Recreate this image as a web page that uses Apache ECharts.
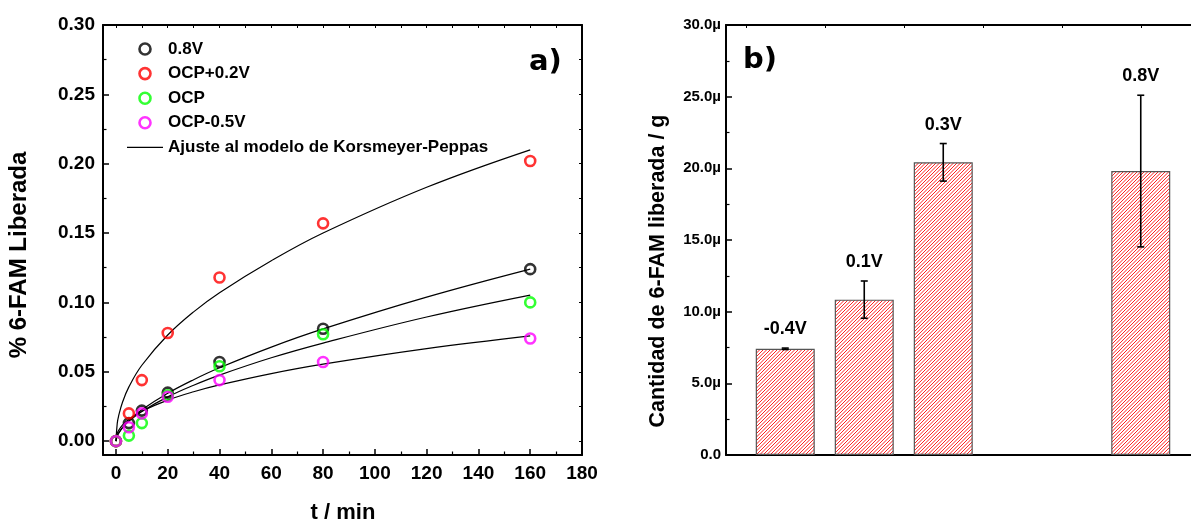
<!DOCTYPE html>
<html>
<head>
<meta charset="utf-8">
<script src="https://cdn.jsdelivr.net/npm/echarts@6/dist/echarts.min.js"></script>
<style>
html,body{margin:0;padding:0;background:#fff;}
#c{width:1191px;height:525px;}
</style>
</head>
<body>
<div id="c"></div>
<script>
// ---------- data (panel a) ----------
const times = [0, 5, 10, 20, 40, 80, 160];
const s08V   = [0, 0.013, 0.022, 0.035, 0.057, 0.081, 0.124];
const sOCPp2 = [0, 0.020, 0.044, 0.078, 0.118, 0.157, 0.202];
const sOCP   = [0, 0.004, 0.013, 0.033, 0.054, 0.077, 0.100];
const sOCPm5 = [0, 0.010, 0.020, 0.032, 0.044, 0.057, 0.074];
const seriesNames = ['0.8V', 'OCP+0.2V', 'OCP', 'OCP-0.5V'];
const fitName = 'Ajuste al modelo de Korsmeyer-Peppas';
// fitted curves
const fitTimes = [0, 0.5, 1, 2.5, 5, 10, 20, 30, 40, 60, 80, 120, 160];
const fit08V   = [0, 0.0036, 0.0055, 0.0096, 0.0148, 0.0226, 0.0345, 0.0443, 0.0529, 0.0678, 0.0809, 0.1038, 0.124];
const fitOCPp2 = [0, 0.0128, 0.0179, 0.0279, 0.0391, 0.0547, 0.0765, 0.0932, 0.107, 0.130, 0.150, 0.183, 0.210];
const fitOCP   = [0, 0.0038, 0.0057, 0.0097, 0.0144, 0.0214, 0.0319, 0.0403, 0.0476, 0.0601, 0.0707, 0.0895, 0.1053];
const fitOCPm5 = [0, 0.0055, 0.0076, 0.0115, 0.0158, 0.0216, 0.0296, 0.0356, 0.0405, 0.0487, 0.0555, 0.0667, 0.0759];
const xTicksA = [0, 20, 40, 60, 80, 100, 120, 140, 160, 180];
const yTicksA = [0, 0.05, 0.10, 0.15, 0.20, 0.25, 0.30];

// ---------- data (panel b) ----------
const barLabels = ['-0.4V', '0.1V', '0.3V', '0.8V'];
const barPos    = [1, 2, 3, 5.5];
const barValues = [7.41, 10.84, 20.42, 19.81];
const barErrors = [0.05, 1.30, 1.31, 5.29];

// ---------- helpers ----------
const FONT = '"Liberation Sans", Arial, sans-serif';
const pair = (xs, ys) => xs.map((x, i) => [x, ys[i]]);
const range = (a, b, s) => { const r = []; for (let v = a; v <= b + 1e-9; v += s) r.push(+v.toFixed(6)); return r; };

// hatch pattern
const pat = document.createElement('canvas');
pat.width = 7; pat.height = 7;
(function () {
  const g = pat.getContext('2d');
  g.fillStyle = '#fff'; g.fillRect(0, 0, 7, 7);
  g.strokeStyle = '#ff2020'; g.lineWidth = 1;
  for (let c = -3.5; c <= 17.5; c += 3.5) {
    g.beginPath(); g.moveTo(c + 1, -1); g.lineTo(c - 8, 8); g.stroke();
  }
})();

const chart = echarts.init(document.getElementById('c'), null, { renderer: 'canvas' });

const axLine = { show: true, onZero: false, lineStyle: { color: '#000', width: 2 } };
const noLine = { show: false, onZero: false };
const labA = { fontFamily: FONT, fontWeight: 'bold', fontSize: 19, color: '#000' };

const scatterColors = ['#000000', '#ff0000', '#00ff00', '#ff00ff'];
const scatterData = [s08V, sOCPp2, sOCP, sOCPm5];
const fitData = [fit08V, fitOCPp2, fitOCP, fitOCPm5];

const series = [];
fitData.forEach((d) => {
  series.push({
    name: fitName, type: 'line', xAxisIndex: 0, yAxisIndex: 0,
    data: pair(fitTimes, d), smooth: 0.4, symbol: 'none', showSymbol: false,
    lineStyle: { color: '#000', width: 1.2 }, itemStyle: { color: '#000' },
    z: 2, silent: true, animation: false
  });
});
scatterData.forEach((d, i) => {
  series.push({
    name: seriesNames[i], type: 'scatter', xAxisIndex: 0, yAxisIndex: 0,
    data: pair(times, d), symbol: 'circle', symbolSize: 10,
    itemStyle: { color: 'rgba(255,255,255,0)', borderColor: scatterColors[i], borderWidth: 2.6 },
    z: 3, animation: false
  });
});
// bars
series.push({
  type: 'bar', xAxisIndex: 3, yAxisIndex: 3,
  data: pair(barPos, barValues), barWidth: 59,
  itemStyle: { color: { image: pat, repeat: 'repeat' }, borderColor: '#555', borderWidth: 1.2 },
  animation: false, silent: true
});
// error bars + labels
series.push({
  type: 'custom', xAxisIndex: 3, yAxisIndex: 3,
  data: barPos.map((x, i) => [x, barValues[i] - barErrors[i], barValues[i] + barErrors[i]]),
  renderItem: function (params, api) {
    const x = api.value(0);
    const lo = api.coord([x, api.value(1)]);
    const hi = api.coord([x, api.value(2)]);
    const cw = 3.5;
    const st = { stroke: '#000', lineWidth: 1.6 };
    return {
      type: 'group',
      children: [
        { type: 'line', shape: { x1: hi[0], y1: hi[1], x2: lo[0], y2: lo[1] }, style: st },
        { type: 'line', shape: { x1: hi[0] - cw, y1: hi[1], x2: hi[0] + cw, y2: hi[1] }, style: st },
        { type: 'line', shape: { x1: lo[0] - cw, y1: lo[1], x2: lo[0] + cw, y2: lo[1] }, style: st },
        { type: 'text', x: hi[0], y: hi[1] - 10, style: {
            text: barLabels[params.dataIndex], fill: '#000', align: 'center', verticalAlign: 'bottom',
            font: 'bold 18px ' + FONT } }
      ]
    };
  },
  z: 5, animation: false, silent: true
});

const legendData = seriesNames.map((n, i) => ({
  name: n, icon: 'circle',
  itemStyle: { color: 'rgba(255,255,255,0)', borderColor: scatterColors[i], borderWidth: 2.6 }
})).concat([{
  name: fitName, icon: 'path://M0,0 L36,0 L36,1.2 L0,1.2 Z', itemStyle: { color: '#000', borderWidth: 0 }
}]);

const option = {
  backgroundColor: '#fff',
  animation: false,
  grid: [
    { left: 103, top: 25, right: 609, bottom: 70 },
    { left: 726, top: 25, right: 0, bottom: 70 }
  ],
  xAxis: [
    { gridIndex: 0, type: 'value', min: -5, max: 180, position: 'bottom',
      axisLine: axLine, splitLine: { show: false },
      axisTick: { show: true, inside: true, length: 6, lineStyle: { width: 1.5, color: '#000' }, customValues: xTicksA },
      axisLabel: Object.assign({ margin: 9, customValues: xTicksA }, labA) },
    { gridIndex: 0, type: 'value', min: -5, max: 180, position: 'bottom',
      axisLine: noLine, splitLine: { show: false }, axisLabel: { show: false },
      axisTick: { show: true, inside: true, length: 3.5, lineStyle: { width: 1.2, color: '#000' }, customValues: range(10, 170, 20) } },
    { gridIndex: 0, type: 'value', min: -5, max: 180, position: 'top',
      axisLine: axLine, splitLine: { show: false }, axisLabel: { show: false },
      axisTick: { show: true, inside: true, length: 3, lineStyle: { width: 1, color: '#000' }, customValues: range(0, 180, 10) } },
    { gridIndex: 1, type: 'value', min: 0.25, max: 0.25 + 465 / 79, position: 'bottom',
      axisLine: axLine, splitLine: { show: false }, axisLabel: { show: false }, axisTick: { show: false } },
    { gridIndex: 1, type: 'value', min: 0.25, max: 0.25 + 465 / 79, position: 'top',
      axisLine: axLine, splitLine: { show: false }, axisLabel: { show: false },
      axisTick: { show: true, inside: true, length: 3, lineStyle: { width: 1, color: '#000' }, customValues: [0.5, 1.5, 2.5, 3.5, 4.5, 5.5] } }
  ],
  yAxis: [
    { gridIndex: 0, type: 'value', min: -0.01, max: 0.30, position: 'left',
      axisLine: axLine, splitLine: { show: false },
      axisTick: { show: true, inside: true, length: 6, lineStyle: { width: 1.5, color: '#000' }, customValues: yTicksA },
      axisLabel: Object.assign({ margin: 8, customValues: yTicksA, formatter: v => v.toFixed(2) }, labA) },
    { gridIndex: 0, type: 'value', min: -0.01, max: 0.30, position: 'left',
      axisLine: noLine, splitLine: { show: false }, axisLabel: { show: false },
      axisTick: { show: true, inside: true, length: 3.5, lineStyle: { width: 1.2, color: '#000' }, customValues: range(0.025, 0.275, 0.05) } },
    { gridIndex: 0, type: 'value', min: -0.01, max: 0.30, position: 'right',
      axisLine: axLine, splitLine: { show: false }, axisLabel: { show: false },
      axisTick: { show: true, inside: true, length: 3, lineStyle: { width: 1, color: '#000' }, customValues: range(0, 0.30, 0.025) } },
    { gridIndex: 1, type: 'value', min: 0, max: 30, interval: 5, position: 'left',
      axisLine: axLine, splitLine: { show: false },
      axisTick: { show: true, inside: true, length: 6, lineStyle: { width: 1.5, color: '#000' } },
      minorTick: { show: true, splitNumber: 2, length: 3.5, lineStyle: { width: 1.2, color: '#000' } },
      minorSplitLine: { show: false },
      axisLabel: { margin: 5, fontFamily: FONT, fontWeight: 'bold', fontSize: 15, color: '#000',
        formatter: v => v === 0 ? '0.0' : v.toFixed(1) + 'µ' } }
  ],
  legend: {
    orient: 'vertical', left: 122, top: 34,
    itemWidth: 36, itemHeight: 11, itemGap: 4.6, symbolKeepAspect: true,
    data: legendData,
    textStyle: { fontFamily: FONT, fontWeight: 'bold', fontSize: 17, color: '#000', lineHeight: 20 },
    selectedMode: false
  },
  graphic: [
    { type: 'text', x: 19, y: 255, rotation: Math.PI / 2,
      style: { text: '% 6-FAM Liberada', font: 'bold 24px ' + FONT, fill: '#000', align: 'center', verticalAlign: 'middle' } },
    { type: 'text', x: 343, y: 513,
      style: { text: 't / min', font: 'bold 22px ' + FONT, fill: '#000', align: 'center', verticalAlign: 'middle' } },
    { type: 'text', x: 658, y: 271, rotation: Math.PI / 2,
      style: { text: 'Cantidad de 6-FAM liberada / g', font: 'bold 21.5px ' + FONT, fill: '#000', align: 'center', verticalAlign: 'middle' } },
    { type: 'text', x: 529, y: 62,
      style: { text: 'a)', font: 'bold 29px "DejaVu Sans", sans-serif', fill: '#000', align: 'left', verticalAlign: 'middle' } },
    { type: 'text', x: 743, y: 60,
      style: { text: 'b)', font: 'bold 29px "DejaVu Sans", sans-serif', fill: '#000', align: 'left', verticalAlign: 'middle' } }
  ],
  series: series
};
chart.setOption(option);
</script>
</body>
</html>
